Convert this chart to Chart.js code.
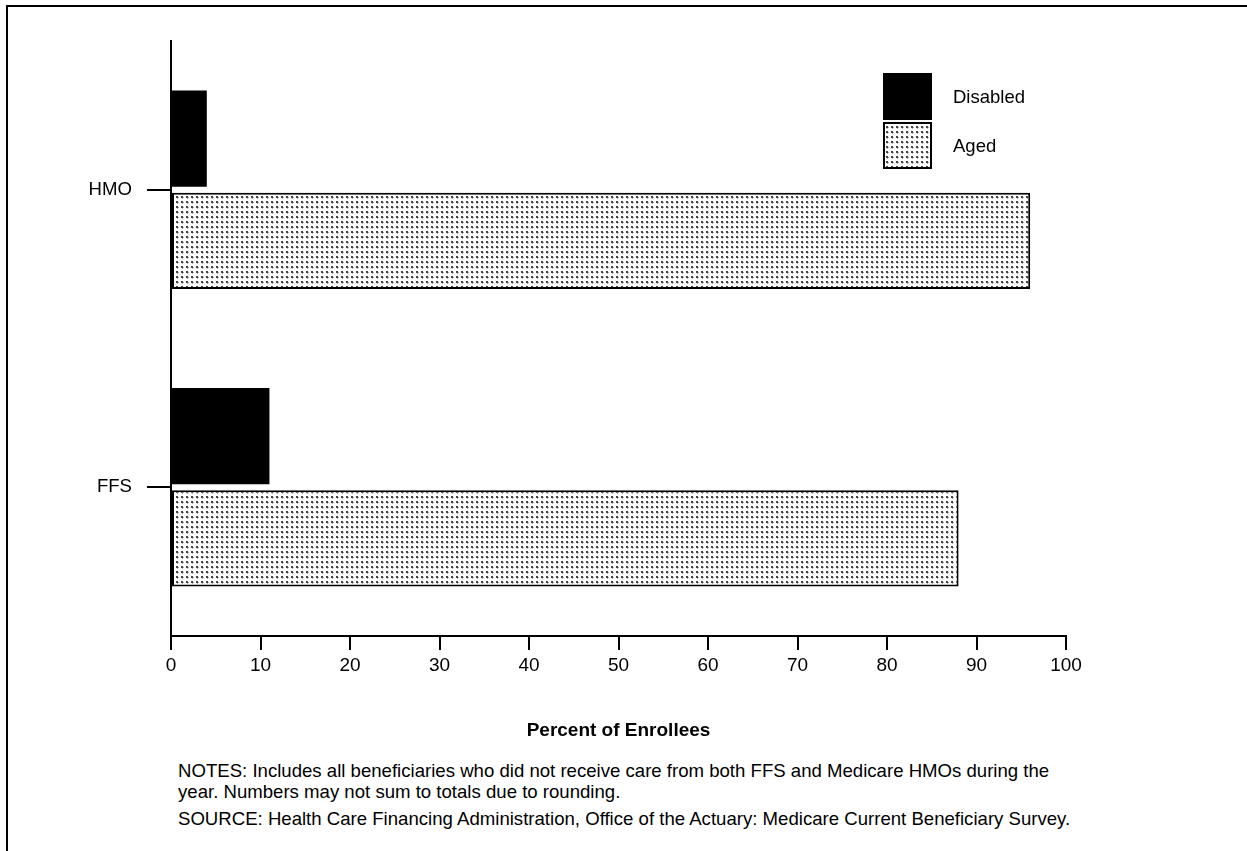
<!DOCTYPE html>
<html>
<head>
<meta charset="utf-8">
<script src="https://cdn.jsdelivr.net/npm/chart.js@4/dist/chart.umd.min.js"></script>
<style>
  html, body { margin: 0; background: #fff; overflow: hidden; font-family: "Liberation Sans", Arial, sans-serif; }
  #frame { position: absolute; left: 6px; top: 5px; width: 1250px; height: 860px;
           border-left: 2px solid #000; border-top: 2px solid #000; }
  #wrap { position: absolute; left: 0; top: 0; }
  #notes { position: absolute; left: 178px; top: 760px; font-size: 18.6px; line-height: 21px; color: #000; white-space: nowrap; }
  #notes p { margin: 0 0 6px 0; }
</style>
</head>
<body>
<div id="frame"></div>
<div id="wrap"><canvas id="enrollChart" width="1247" height="760"></canvas></div>
<div id="notes">
  <p>NOTES: Includes all beneficiaries who did not receive care from both FFS and Medicare HMOs during the<br>year. Numbers may not sum to totals due to rounding.</p>
  <p>SOURCE: Health Care Financing Administration, Office of the Actuary: Medicare Current Beneficiary Survey.</p>
</div>
<script>
// DATA
const categories = ["HMO", "FFS"];
const disabledPct = [4, 11];
const agedPct = [96, 88];
const xTicks = [0, 10, 20, 30, 40, 50, 60, 70, 80, 90, 100];

// dotted fill for the Aged bars
function makeStipple() {
    const tile = document.createElement("canvas");
    tile.width = 5;
    tile.height = 5;
    const t = tile.getContext("2d");
    t.fillStyle = "#fff";
    t.fillRect(0, 0, 5, 5);
    t.fillStyle = "#444";
    t.fillRect(1, 1, 2, 2);
    t.fillStyle = "#aaa";
    t.fillRect(3, 2, 1, 1);
    t.fillRect(2, 3, 1, 1);
    return t.createPattern(tile, "repeat");
}
const stipple = makeStipple();

// LEGEND (boxes at the top right, inside the plot)
const boxLegend = {
    id: "boxLegend",
    afterDraw(chart) {
        const ctx = chart.ctx;
        ctx.save();
        chart.data.datasets.forEach((ds, i) => {
            const y = 73 + i * 49;
            ctx.fillStyle = ds.backgroundColor;
            ctx.fillRect(883, y, 49, 47);
            ctx.strokeStyle = "#000";
            ctx.lineWidth = 2;
            ctx.strokeRect(884, y + 1, 47, 45);
            ctx.fillStyle = "#000";
            ctx.font = '18.5px "Liberation Sans", Arial, sans-serif';
            ctx.textBaseline = "middle";
            ctx.fillText(ds.label, 953, y + 25);
        });
        ctx.restore();
    }
};

const ctx = document.getElementById("enrollChart").getContext("2d");

new Chart(ctx, {
    type: "bar",
    data: {
        labels: categories,
        datasets: [{
            label: "Disabled",
            data: disabledPct,
            backgroundColor: "#000",
            borderColor: "#000",
            borderWidth: 0,
            categoryPercentage: 0.687,
            barPercentage: 0.94
        }, {
            label: "Aged",
            data: agedPct,
            backgroundColor: stipple,
            borderColor: "#000",
            borderWidth: 2,
            borderSkipped: false,
            categoryPercentage: 0.687,
            barPercentage: 0.94
        }]
    },
    options: {
        indexAxis: "y",
        responsive: false,
        animation: false,
        layout: { padding: { left: 0, top: 41, right: 181, bottom: 0 } },
        plugins: {
            legend: { display: false },
            tooltip: { enabled: false }
        },
        scales: {
            x: {
                min: 0,
                max: 100,
                afterFit: (s) => { s.height = 124; },
                afterBuildTicks: (s) => { s.ticks = xTicks.map(v => ({ value: v })); },
                border: { color: "#000", width: 2 },
                grid: { drawOnChartArea: false, drawTicks: true, tickLength: 14, color: "#000", lineWidth: 2 },
                ticks: { color: "#000", padding: 4, maxRotation: 0, autoSkip: false,
                         font: { family: "Liberation Sans", size: 19 } },
                title: { display: true, text: "Percent of Enrollees", color: "#000",
                         font: { family: "Liberation Sans", size: 19, weight: "bold" },
                         padding: { top: 0, bottom: 18 } }
            },
            y: {
                afterFit: (s) => { s.width = 171; },
                border: { color: "#000", width: 2 },
                grid: { offset: false, drawOnChartArea: false, drawTicks: true, tickLength: 24, color: "#000", lineWidth: 2 },
                ticks: { color: "#000", padding: 15, font: { family: "Liberation Sans", size: 18.6 } }
            }
        }
    },
    plugins: [boxLegend]
});
</script>
</body>
</html>
